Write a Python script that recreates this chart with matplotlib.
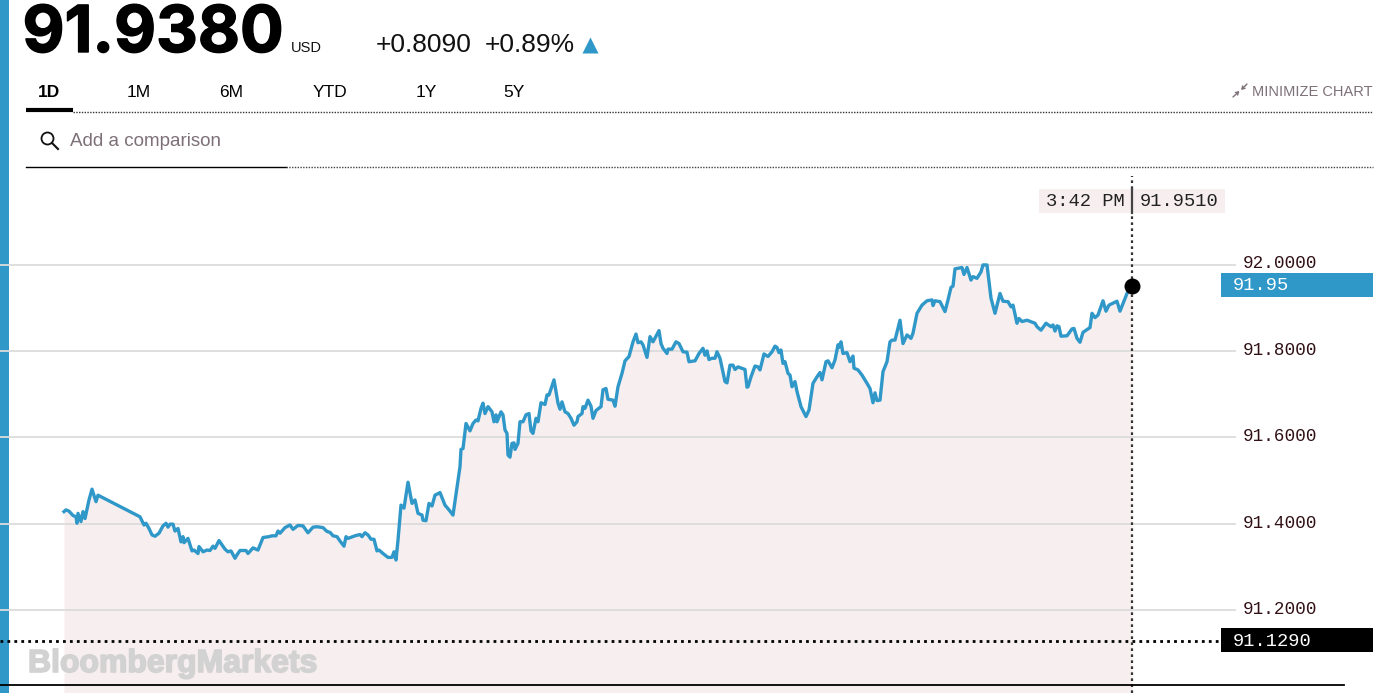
import matplotlib
matplotlib.use("Agg")
import matplotlib.pyplot as plt
import matplotlib.patheffects as pe
from matplotlib.patches import Rectangle, Circle

# Session position along the x axis (0 = first trade) and the price
session_x = [0, 2, 5, 9, 12, 13, 14, 17, 19, 21, 25, 28, 32, 34, 76, 80, 82, 85, 88, 91, 95, 99, 102, 104, 106, 109,
             111, 114, 117, 119, 120, 124, 128, 130, 134, 135, 139, 143, 146, 149, 151, 155, 158, 161, 164, 167,
             171, 173, 176, 182, 184, 189, 194, 199, 205, 208, 212, 214, 216, 221, 226, 229, 234, 239, 244, 249,
             253, 259, 263, 266, 269, 273, 276, 280, 282, 284, 291, 296, 298, 301, 304, 307, 310, 313, 315, 319,
             324, 328, 330, 332, 334, 337, 340, 344, 348, 351,
             354, 358, 359, 362, 365, 368, 371, 376, 381, 385, 389, 396, 397, 399, 402, 406, 409, 412, 414, 417,
             419, 421, 424, 428, 430, 432, 433, 437, 439, 441, 443, 444, 446, 448, 450, 451, 454, 456, 459, 462,
             465, 467, 469, 472, 474, 477, 481, 483, 485, 490, 494, 496, 498, 501, 504, 507, 510, 513, 514, 518,
             519, 521, 524, 527, 529, 532, 537, 539, 542, 544, 549, 551, 554, 558,
             561, 565, 569, 572, 574, 577, 579, 583, 586, 589, 595, 597, 599, 603, 604, 608, 612, 615, 619, 623,
             625, 631, 635, 639, 641, 643, 645, 648, 651, 653, 656, 661, 663, 666, 669, 671, 674, 681, 683, 684,
             687, 691, 694, 696, 700, 704, 708, 711, 713, 715, 717, 719, 721, 724, 726, 728, 731, 733, 737, 742,
             745, 749, 753, 756, 758, 762, 764, 768, 771, 774, 775, 777, 779, 783, 786, 789, 790, 794, 798, 803,
             806, 809, 811, 813, 816, 819, 823, 826, 828, 831, 836,
             839, 843, 847, 849, 853, 858, 863, 868, 869, 871, 876, 881, 884, 887, 889, 891, 898, 900, 903, 907,
             909, 913, 917, 919, 923, 927, 931, 936, 939, 944, 947, 949, 953, 955, 958, 963, 971, 973, 977, 982,
             987, 989, 991, 993, 995, 997, 1003, 1008, 1010, 1013, 1016, 1019, 1026, 1028, 1031, 1034, 1039, 1042,
             1045, 1053, 1056, 1063, 1066, 1068]
session_price = [91.428, 91.432, 91.429, 91.419, 91.416, 91.401, 91.424, 91.405, 91.428, 91.412, 91.455, 91.480,
                 91.451, 91.466, 91.416, 91.397, 91.401, 91.389, 91.374, 91.371, 91.378, 91.395, 91.401, 91.392,
                 91.399, 91.399, 91.383, 91.389, 91.358, 91.370, 91.356, 91.366, 91.337, 91.339, 91.331, 91.347,
                 91.335, 91.339, 91.338, 91.348, 91.343, 91.361, 91.351, 91.341, 91.335, 91.337, 91.320, 91.328,
                 91.338, 91.338, 91.331, 91.344, 91.339, 91.368, 91.370, 91.372, 91.372, 91.383, 91.378, 91.391,
                 91.397, 91.387, 91.396, 91.395, 91.379, 91.392, 91.393, 91.391, 91.382, 91.380, 91.372, 91.370,
                 91.360, 91.348, 91.370, 91.366, 91.372, 91.375, 91.370, 91.379, 91.374, 91.364, 91.364, 91.337,
                 91.339, 91.331, 91.322, 91.322, 91.335, 91.316, 91.362, 91.443, 91.436, 91.496, 91.447, 91.455,
                 91.424, 91.420, 91.408, 91.407, 91.447, 91.441, 91.466, 91.472, 91.443, 91.432, 91.420, 91.532,
                 91.572, 91.574, 91.632, 91.615, 91.632, 91.640, 91.638, 91.667, 91.679, 91.655, 91.671, 91.659,
                 91.636, 91.652, 91.636, 91.659, 91.652, 91.617, 91.609, 91.559, 91.554, 91.586, 91.587, 91.572,
                 91.586, 91.636, 91.636, 91.652, 91.655, 91.615, 91.609, 91.644, 91.636, 91.680, 91.676, 91.698,
                 91.698, 91.733, 91.679, 91.665, 91.682, 91.659, 91.655, 91.644, 91.628, 91.636, 91.648, 91.655,
                 91.671, 91.667, 91.686, 91.672, 91.644, 91.662, 91.671, 91.710, 91.713, 91.688, 91.686, 91.672,
                 91.717, 91.748,
                 91.777, 91.787, 91.821, 91.839, 91.819, 91.821, 91.814, 91.785, 91.833, 91.821, 91.847, 91.817,
                 91.806, 91.794, 91.804, 91.804, 91.821, 91.817, 91.798, 91.797, 91.775, 91.777, 91.794, 91.806,
                 91.790, 91.800, 91.780, 91.783, 91.783, 91.798, 91.783, 91.729, 91.726, 91.767, 91.767, 91.757,
                 91.763, 91.757, 91.716, 91.717, 91.740, 91.765, 91.763, 91.756, 91.793, 91.787, 91.798, 91.811,
                 91.808, 91.796, 91.802, 91.771, 91.775, 91.748, 91.744, 91.717, 91.729, 91.706, 91.671, 91.648,
                 91.663, 91.725, 91.740, 91.750, 91.733, 91.775, 91.777, 91.761, 91.779, 91.814, 91.808, 91.821,
                 91.794, 91.796, 91.775, 91.788, 91.760, 91.756, 91.744, 91.725, 91.713, 91.680, 91.703, 91.685,
                 91.686, 91.752, 91.775, 91.821, 91.825, 91.825, 91.871,
                 91.817, 91.837, 91.829, 91.841, 91.887, 91.906, 91.916, 91.918, 91.905, 91.916, 91.914, 91.891,
                 91.918, 91.947, 91.950, 91.990, 91.993, 91.977, 91.993, 91.964, 91.972, 91.968, 91.983, 91.999,
                 91.999, 91.922, 91.887, 91.933, 91.915, 91.914, 91.902, 91.906, 91.864, 91.875, 91.868, 91.871,
                 91.864, 91.856, 91.848, 91.864, 91.856, 91.860, 91.846, 91.858, 91.856, 91.834, 91.835, 91.851,
                 91.852, 91.829, 91.820, 91.843, 91.854, 91.887, 91.877, 91.883, 91.916, 91.892, 91.906, 91.915,
                 91.892, 91.933, 91.945, 91.951]

grid_prices = [92.0, 91.8, 91.6, 91.4, 91.2]
grid_labels = ["92.0000", "91.8000", "91.6000", "91.4000", "91.2000"]
prev_close = 91.129
last_price = 91.951

range_labels = ["1D", "1M", "6M", "YTD", "1Y", "5Y"]

BLUE = "#2f98c9"
PINK = "#f6eeef"
GREY_TEXT = "#7d7078"
SANS = "Liberation Sans"
MONO = "Liberation Mono"

fig = plt.figure(figsize=(13.9, 6.93), dpi=100)

# blue page edge goes under everything else
fig.add_artist(Rectangle((0, 0), 9 / 1390, 1, transform=fig.transFigure, color=BLUE, lw=0, zorder=-1))

##########################################
## Price chart, fills the whole figure
##########################################
ax = fig.add_axes([0, 0, 1, 1])
ax.set_xlim(-64, 1326)
ax.set_ylim(92 - 428.5 / 432, 92 + 264.5 / 432)
ax.axis("off")

for p in grid_prices:
    ax.plot([-64, 1171], [p, p], color="#dcdcdc", lw=1.3, zorder=3)
ax.fill_between(session_x, session_price, ax.get_ylim()[0], color=PINK, lw=0, zorder=1)
ax.plot(session_x, session_price, color=BLUE, lw=2.4, zorder=4, solid_joinstyle="round")

ax.plot([-64, 1158], [prev_close, prev_close], color="black", lw=2, ls=(0, (1, 1.5)), zorder=5)
ax.plot([1068, 1068], [ax.get_ylim()[0], 92 + 88.5 / 432], color="#333333", lw=1.6, ls=(0, (1.2, 1.5)), zorder=5)
ax.plot(session_x[-1], last_price, "o", color="black", ms=11.5, mec="none", zorder=6)

#############################################
## Page furniture, in pixels of the image
#############################################
top = fig.add_axes([0, 0, 1, 1], facecolor="none")
top.set_xlim(0, 1390)
top.set_ylim(693, 0)
top.axis("off")

top.text(22.5, 52, "91.9380", family="Inter", weight="bold", fontsize=46.6, color="black", va="baseline",
         path_effects=[pe.withStroke(linewidth=1, foreground="black")])
top.text(291, 52, "USD", family=SANS, fontsize=10.5, color="#111111", va="baseline")
top.text(376, 52, "+0.8090", family=SANS, fontsize=19, color="#111111", va="baseline")
top.text(485, 52, "+0.89%", family=SANS, fontsize=19, color="#111111", va="baseline")
top.plot(590, 45, "^", color=BLUE, ms=11, mec="none")

# range tabs
tab_x = [49, 139, 231, 330, 426, 514]
for i in range(len(range_labels)):
    top.text(tab_x[i], 97, range_labels[i], family=SANS, fontsize=12.5, ha="center", va="baseline", color="black",
             weight="bold" if i == 0 else "normal")
top.plot([26, 73], [110, 110], color="black", lw=3, solid_capstyle="butt")
top.plot([73, 1373], [111.5, 111.5], color="#333333", lw=1, ls=(0, (1, 1)))

top.text(1373, 96, "MINIMIZE CHART", family=SANS, fontsize=10.5, ha="right", va="baseline", color=GREY_TEXT)
icon_style = dict(arrowstyle="->,head_width=0.12,head_length=0.2", color=GREY_TEXT, lw=1, shrinkA=0, shrinkB=0)
top.annotate("", xy=(1239.5, 91), xytext=(1233, 97), arrowprops=icon_style)
top.annotate("", xy=(1241, 90), xytext=(1247, 84), arrowprops=icon_style)

# comparison box
top.add_patch(Circle((47.5, 138.5), 6, fill=False, ec="#111111", lw=1.3))
top.plot([52, 58], [143, 149], color="#111111", lw=1.5)
top.text(70, 146, "Add a comparison", family=SANS, fontsize=13.5, va="baseline", color=GREY_TEXT)
top.plot([26, 286], [166.5, 166.5], color="black", lw=1)
top.plot([286, 1373], [167, 167], color="#444444", lw=1, ls=(0, (1, 1)))

# hover label
top.add_patch(Rectangle((1039, 189), 186, 24, color=PINK, lw=0))
top.plot([1132, 1132], [189, 213], color="#444444", lw=1.6)
top.text(1046, 206, "3:42 PM", family=MONO, fontsize=13.5, va="baseline", color="#222222")
top.text(1140, 206, "91.9510", family=MONO, fontsize=13.5, va="baseline", color="#222222")

# axis labels on the right
for i in range(len(grid_labels)):
    y = 264.5 + (92 - grid_prices[i]) * 432
    top.text(1243, y + 4, grid_labels[i], family=MONO, fontsize=12.7, va="baseline", color="#301015")

top.add_patch(Rectangle((1221, 273), 152, 24, color=BLUE, lw=0))
top.text(1233, 290, "91.95", family=MONO, fontsize=13.5, va="baseline", color="white")
top.add_patch(Rectangle((1221, 628), 152, 24, color="black", lw=0))
top.text(1233, 646, "91.1290", family=MONO, fontsize=13.5, va="baseline", color="white")

top.text(28, 672, "BloombergMarkets", family=SANS, weight="bold", fontsize=23, va="baseline", color="#d2d2d2",
         path_effects=[pe.withStroke(linewidth=1.2, foreground="#d2d2d2")])
top.plot([0, 1344], [684.5, 684.5], color="black", lw=1.3)

fig.savefig("out.png", dpi=100)
